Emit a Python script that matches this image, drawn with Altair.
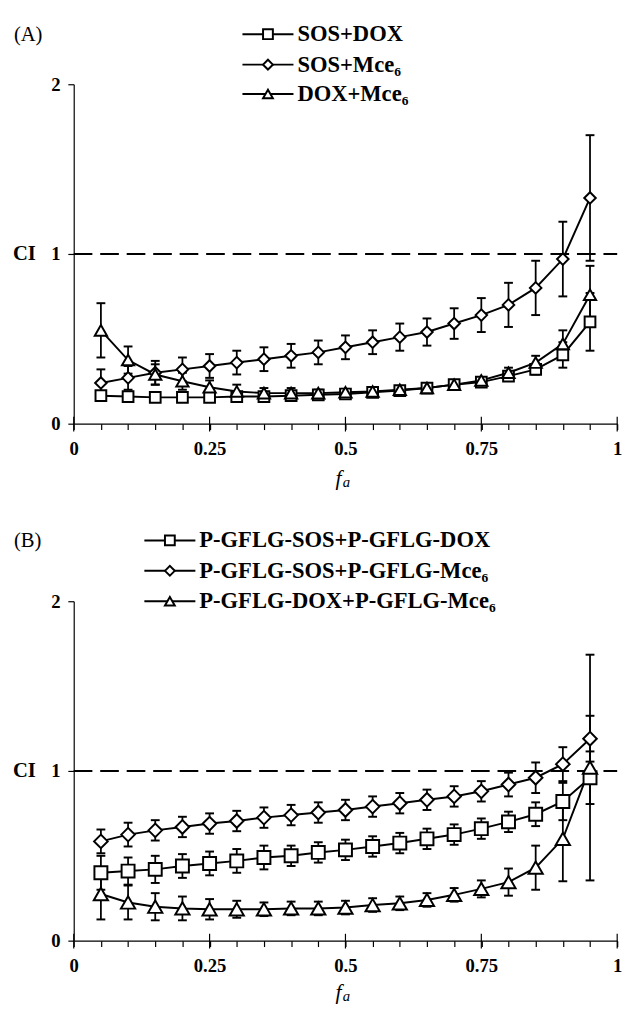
import altair as alt
import pandas as pd

# ---------------- data ----------------
fa = [0.05, 0.10, 0.15, 0.20, 0.25, 0.30, 0.35, 0.40, 0.45, 0.50,
      0.55, 0.60, 0.65, 0.70, 0.75, 0.80, 0.85, 0.90, 0.95]

# Panel A
a_names = ["SOS+DOX", "SOS+Mce₆", "DOX+Mce₆"]
a_sos_dox = [0.165, 0.16, 0.155, 0.155, 0.155, 0.16, 0.16, 0.165, 0.17, 0.175,
             0.185, 0.195, 0.21, 0.23, 0.245, 0.28, 0.32, 0.405, 0.60]
a_sos_dox_err = [0.02, 0.015, 0.015, 0.015, 0.015, 0.015, 0.015, 0.015, 0.015, 0.015,
                 0.015, 0.015, 0.015, 0.02, 0.02, 0.025, 0.03, 0.075, 0.17]
a_sos_mce = [0.24, 0.27, 0.30, 0.32, 0.34, 0.36, 0.38, 0.40, 0.42, 0.45,
             0.48, 0.51, 0.54, 0.59, 0.64, 0.70, 0.80, 0.97, 1.33]
a_sos_mce_err = [0.08, 0.07, 0.07, 0.07, 0.07, 0.07, 0.07, 0.07, 0.07, 0.07,
                 0.07, 0.08, 0.08, 0.09, 0.10, 0.13, 0.16, 0.22, 0.37]
a_dox_mce = [0.55, 0.375, 0.29, 0.25, 0.215, 0.19, 0.18, 0.18, 0.18, 0.185,
             0.19, 0.20, 0.21, 0.23, 0.255, 0.30, 0.36, 0.47, 0.76]
a_dox_mce_err = [0.16, 0.08, 0.06, 0.05, 0.04, 0.04, 0.03, 0.03, 0.02, 0.02,
                 0.02, 0.02, 0.02, 0.02, 0.02, 0.03, 0.04, 0.08, 0.17]

# Panel B
b_names = ["P-GFLG-SOS+P-GFLG-DOX", "P-GFLG-SOS+P-GFLG-Mce₆", "P-GFLG-DOX+P-GFLG-Mce₆"]
b_sos_dox = [0.40, 0.41, 0.42, 0.44, 0.455, 0.47, 0.49, 0.50, 0.52, 0.535,
             0.555, 0.575, 0.60, 0.625, 0.66, 0.70, 0.745, 0.82, 0.96]
b_sos_dox_err = [0.10, 0.08, 0.08, 0.07, 0.07, 0.07, 0.07, 0.06, 0.06, 0.06,
                 0.06, 0.06, 0.06, 0.06, 0.06, 0.06, 0.07, 0.11, 0.155]
b_sos_mce = [0.585, 0.625, 0.65, 0.67, 0.69, 0.705, 0.725, 0.74, 0.755, 0.77,
             0.79, 0.81, 0.83, 0.85, 0.88, 0.92, 0.96, 1.04, 1.19]
b_sos_mce_err = [0.07, 0.07, 0.06, 0.06, 0.06, 0.06, 0.06, 0.06, 0.06, 0.06,
                 0.06, 0.06, 0.06, 0.06, 0.06, 0.07, 0.09, 0.10, 0.135]
b_dox_mce = [0.275, 0.225, 0.20, 0.19, 0.185, 0.185, 0.185, 0.19, 0.19, 0.195,
             0.21, 0.22, 0.24, 0.27, 0.305, 0.345, 0.43, 0.60, 1.02]
b_dox_mce_err = [0.15, 0.10, 0.08, 0.07, 0.06, 0.05, 0.04, 0.04, 0.04, 0.04,
                 0.04, 0.04, 0.04, 0.04, 0.05, 0.08, 0.13, 0.25, 0.665]

x_ticks = [round(i * 0.05, 2) for i in range(21)]
x_major = [0, 0.25, 0.5, 0.75, 1]
y_ticks = [0, 1, 2]
shapes = ["square", "diamond", "triangle-up"]
marker_sizes = [120, 210, 190]
ci_level = 1

FONT = "Liberation Serif"
W = 554
H = 346

X_AXIS = alt.Axis(values=x_ticks, tickSize=6, labelPadding=10,
                  labelExpr="abs(datum.value*4 - round(datum.value*4)) < 0.001 ? toString(datum.value) : ''",
                  title=None, grid=False, labelFlush=False, labelOverlap=False, labelBound=False)
Y_AXIS = alt.Axis(values=y_ticks, tickSize=6, labelPadding=8, title=None, grid=False,
                  labelExpr="toString(datum.value)", labelOverlap=False)
XS = alt.Scale(domain=[0, 1], nice=False, zero=False)
YS = alt.Scale(domain=[0, 2], nice=False, zero=False)


def X(f):
    return alt.X(f + ":Q", scale=XS, axis=X_AXIS)


def Y(f):
    return alt.Y(f + ":Q", scale=YS, axis=Y_AXIS)


def panel(tag, names, vals, errs, leg_y, leg_x0, title_dy):
    rows = []
    for name, v, e in zip(names, vals, errs):
        for xi, yi, ei in zip(fa, v, e):
            rows.append({"fa": xi, "ci": yi, "lo": yi - ei, "hi": yi + ei, "series": name})
    df = pd.DataFrame(rows)
    base = alt.Chart(df)
    shape_scale = alt.Scale(domain=names, range=shapes)
    size_scale = alt.Scale(domain=names, range=marker_sizes)

    lines = base.mark_line(color="black", strokeWidth=2).encode(
        x=X("fa"), y=Y("ci"), detail="series:N",
    )
    err = base.mark_rule(color="black", strokeWidth=1.8).encode(
        x=X("fa"), y=Y("lo"), y2="hi:Q",
    )
    cap_lo = base.mark_tick(color="black", orient="horizontal", size=9, thickness=2, opacity=1).encode(
        x=X("fa"), y=Y("lo"),
    )
    cap_hi = base.mark_tick(color="black", orient="horizontal", size=9, thickness=2, opacity=1).encode(
        x=X("fa"), y=Y("hi"),
    )
    pts = base.mark_point(fill="white", stroke="black", strokeWidth=2, opacity=1,
                          fillOpacity=1).encode(
        x=X("fa"), y=Y("ci"),
        shape=alt.Shape("series:N", scale=shape_scale, legend=None),
        size=alt.Size("series:N", scale=size_scale, legend=None),
    )

    ci_df = pd.DataFrame({"ci": [ci_level]})
    dash = alt.Chart(ci_df).mark_rule(color="black", strokeWidth=2, strokeDash=[19, 8]).encode(
        y=Y("ci"), x=alt.value(0), x2=alt.value(W)
    )
    ci_text = alt.Chart(ci_df).mark_text(align="left", baseline="middle", font=FONT,
                                          fontSize=21, fontWeight="bold", color="black").encode(
        y=Y("ci"), x=alt.value(-62), text=alt.value("CI")
    )

    maj_df = pd.DataFrame({"fa": x_major})
    maj = alt.Chart(maj_df).mark_rule(color="black", strokeWidth=1.2).encode(
        x=X("fa"), y=alt.value(H - 7), y2=alt.value(H + 8)
    )

    one = pd.DataFrame({"a": [0]})
    extra = []
    extra.append(alt.Chart(one).mark_text(align="left", baseline="middle", font=FONT, fontSize=21,
                                          color="black").encode(
        x=alt.value(-61), y=alt.value(leg_y[0] + 1), text=alt.value(tag)))
    for i, (name, shp) in enumerate(zip(names, shapes)):
        yy = leg_y[i]
        extra.append(alt.Chart(one).mark_rule(color="black", strokeWidth=2).encode(
            x=alt.value(leg_x0), x2=alt.value(leg_x0 + 52), y=alt.value(yy)))
        extra.append(alt.Chart(one).mark_point(shape=shp, fill="white", stroke="black", strokeWidth=2,
                                               opacity=1, fillOpacity=1, size=100).encode(
            x=alt.value(leg_x0 + 26), y=alt.value(yy)))
        extra.append(alt.Chart(one).mark_text(align="left", baseline="middle", font=FONT, fontSize=23,
                                              fontWeight="bold", color="black").encode(
            x=alt.value(leg_x0 + 56), y=alt.value(yy), text=alt.value(name)))
    extra.append(alt.Chart(one).mark_text(align="center", baseline="middle", font=FONT, fontSize=22,
                                          fontStyle="italic", color="black").encode(
        x=alt.value(W / 2 - 7), y=alt.value(H + title_dy), text=alt.value("f")))
    extra.append(alt.Chart(one).mark_text(align="center", baseline="middle", font=FONT, fontSize=15,
                                          fontStyle="italic", color="black").encode(
        x=alt.value(W / 2 + 1), y=alt.value(H + title_dy + 4), text=alt.value("a")))

    return alt.layer(lines, dash, err, cap_lo, cap_hi, pts, maj, ci_text, *extra).properties(
        width=W, height=H
    )


pa = panel("(A)", a_names, [a_sos_dox, a_sos_mce, a_dox_mce],
           [a_sos_dox_err, a_sos_mce_err, a_dox_mce_err], [-51, -20, 10], 172, 56)
pb = panel("(B)", b_names, [b_sos_dox, b_sos_mce, b_dox_mce],
           [b_sos_dox_err, b_sos_mce_err, b_dox_mce_err], [-62, -31, 0], 72, 52)

chart = alt.vconcat(pa, pb, spacing=40).properties(
    padding={"left": 5, "top": 6, "right": 5, "bottom": 0}
).configure_view(stroke=None).configure_axis(
    domainColor="black", tickColor="black", labelColor="black", labelFont=FONT,
    labelFontSize=19, labelFontWeight="bold", domainWidth=1.2, tickWidth=1.2
)

chart.save("out.html", embed_options={"renderer": "svg", "actions": False})
